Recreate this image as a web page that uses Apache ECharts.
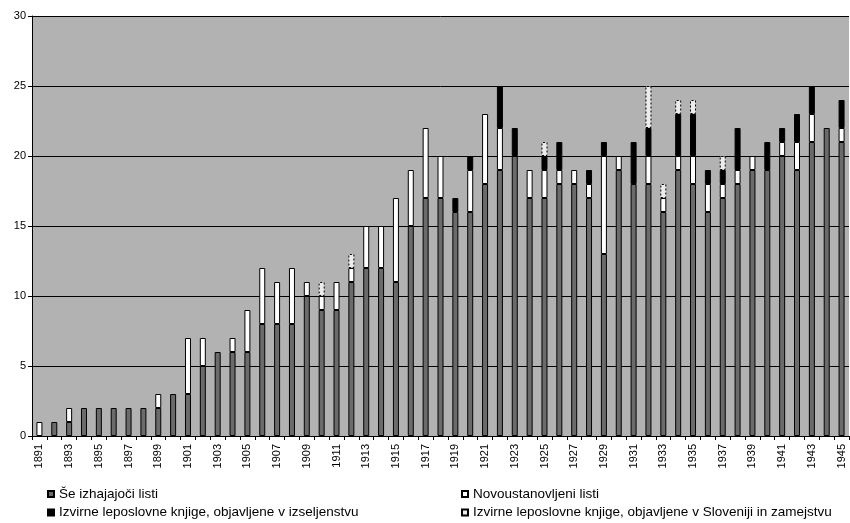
<!DOCTYPE html>
<html><head><meta charset="utf-8">
<script src="https://cdn.jsdelivr.net/npm/echarts@6/dist/echarts.min.js"></script>
<style>html,body{margin:0;padding:0;background:#fff}#c{width:850px;height:523px}</style>
</head><body><div id="c"></div>
<script>
const years = ['1891','1892','1893','1894','1895','1896','1897','1898','1899','1900','1901','1902','1903','1904','1905','1906','1907','1908','1909','1910','1911','1912','1913','1914','1915','1916','1917','1918','1919','1920','1921','1922','1923','1924','1925','1926','1927','1928','1929','1930','1931','1932','1933','1934','1935','1936','1937','1938','1939','1940','1941','1942','1943','1944','1945'];
const seIzhajajoci = [0,1,1,2,2,2,2,2,2,3,3,5,6,6,6,8,8,8,10,9,9,11,12,12,11,15,17,17,16,16,18,19,20,17,17,18,18,17,13,19,18,18,16,19,18,16,17,18,19,19,20,19,21,22,21];
const novoustanovljeni = [1,0,1,0,0,0,0,0,1,0,4,2,0,1,3,4,3,4,1,1,2,1,3,3,6,4,5,3,0,3,5,3,0,2,2,1,1,1,7,1,0,2,1,1,2,2,1,1,1,0,1,2,2,0,1];
const knjigeIzseljenstvo = [0,0,0,0,0,0,0,0,0,0,0,0,0,0,0,0,0,0,0,0,0,0,0,0,0,0,0,0,1,1,0,3,2,0,1,2,0,1,1,0,3,2,0,3,3,1,1,3,0,2,1,2,2,0,2];
const knjigeSlovenija = [0,0,0,0,0,0,0,0,0,0,0,0,0,0,0,0,0,0,0,1,0,1,0,0,0,0,0,0,0,0,0,0,0,0,1,0,0,0,0,0,0,3,1,1,1,0,1,0,0,0,0,0,0,0,0];
const yTicks = [0,5,10,15,20,25,30];
const names = ['Še izhajajoči listi','Novoustanovljeni listi','Izvirne leposlovne knjige, objavljene v izseljenstvu','Izvirne leposlovne knjige, objavljene v Sloveniji in zamejstvu'];

const nz = a => a.map(v => v === 0 ? '-' : v);
const font = 'Liberation Sans, Arial, sans-serif';
function ser(name, data, color, borderType) {
  return {
    name, type: 'bar', stack: 'a', data: nz(data), barWidth: 6,
    itemStyle: { color, borderColor: '#000', borderWidth: 1, borderType: borderType || 'solid' },
    emphasis: { disabled: true }
  };
}
const legendText = { fontFamily: font, fontSize: 13.5, lineHeight: 14, color: '#000' };
const legendBase = { orient: 'vertical', top: 487, padding: 0, height: 40, icon: 'rect', itemWidth: 6, itemHeight: 6,
                     itemGap: 4.5, textStyle: legendText, selectedMode: false };
const chart = echarts.init(document.getElementById('c'), null, { renderer: 'canvas' });
chart.setOption({
  animation: false,
  backgroundColor: '#fff',
  grid: { left: 32, right: 1, top: 16, bottom: 87, containLabel: false, outerBoundsMode: 'none',
          show: true, backgroundColor: '#b2b2b2', borderWidth: 0 },
  legend: [
    Object.assign({}, legendBase, { data: [names[0], names[2]], left: 47 }),
    Object.assign({}, legendBase, { data: [names[1], names[3]], left: 461 })
  ],
  xAxis: {
    type: 'category', data: years, boundaryGap: true,
    axisLine: { lineStyle: { color: '#000', width: 1 } },
    axisTick: { show: true, interval: 0, length: 4, lineStyle: { color: '#000' } },
    axisLabel: { show: true, rotate: 90, interval: 1, hideOverlap: false, fontSize: 11, fontFamily: font, color: '#000', margin: 8 }
  },
  yAxis: {
    type: 'value', min: 0, max: 30, interval: 5,
    axisLine: { show: true, lineStyle: { color: '#000' } },
    axisTick: { show: true, length: 4, lineStyle: { color: '#000' } },
    axisLabel: { fontSize: 11, fontFamily: font, color: '#000', margin: 6 },
    splitLine: { lineStyle: { color: '#000', width: 1 } }
  },
  series: [
    ser(names[0], seIzhajajoci, '#6b6b6b'),
    ser(names[1], novoustanovljeni, '#ffffff'),
    ser(names[2], knjigeIzseljenstvo, '#000000'),
    ser(names[3], knjigeSlovenija, '#ececec', [2, 2])
  ]
});
</script></body></html>
